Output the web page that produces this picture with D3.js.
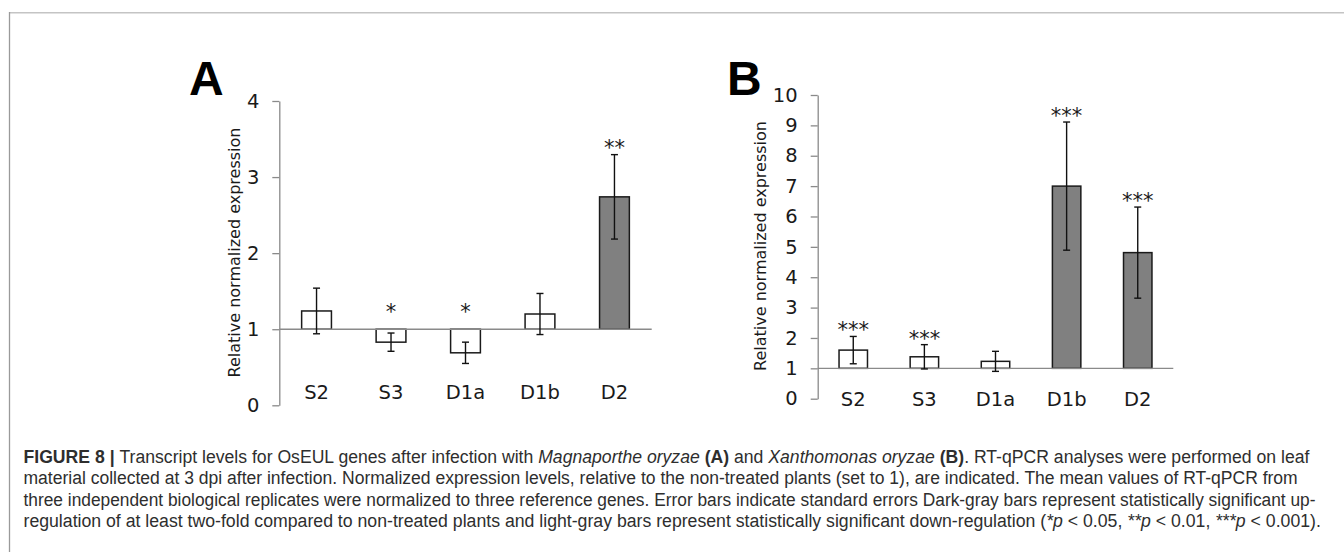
<!DOCTYPE html>
<html><head><meta charset="utf-8">
<script src="https://cdn.jsdelivr.net/npm/d3@7/dist/d3.min.js"></script>
<style>
html,body{margin:0;padding:0;background:#fff;}
svg{display:block;}
</style></head>
<body>
<svg id="c" width="1344" height="552"></svg>
<script>
// ---- data ----
const categories = ["S2", "S3", "D1a", "D1b", "D2"];
const valuesA = [1.24, 0.83, 0.69, 1.20, 2.74];
const errorsA = [0.30, 0.12, 0.14, 0.27, 0.555];
const signifA = ["", "*", "*", "", "**"];
const upA = [false, false, false, false, true];
const ticksA = [0, 1, 2, 3, 4];

const valuesB = [1.60, 1.38, 1.23, 7.00, 4.81];
const errorsB = [0.45, 0.40, 0.33, 2.11, 1.50];
const signifB = ["***", "***", "", "***", "***"];
const upB = [false, false, false, true, true];
const ticksB = [0, 1, 2, 3, 4, 5, 6, 7, 8, 9, 10];

const yLabel = "Relative normalized expression";

const svg = d3.select("#c");

// frame
svg.append("line").attr("x1", 9.5).attr("x2", 1344).attr("y1", 12.7).attr("y2", 12.7)
  .attr("stroke", "#c4c4c4").attr("stroke-width", 1.6);
svg.append("line").attr("x1", 9.5).attr("x2", 9.5).attr("y1", 12).attr("y2", 552)
  .attr("stroke", "#9a9a9a").attr("stroke-width", 1.3);

const chartFont = "'DejaVu Sans', Verdana, sans-serif";

function panel(opt) {
  const g = svg.append("g");
  const x = d3.scaleBand().domain(categories).range([opt.x0, opt.x1])
    .paddingInner(0.6).paddingOuter(0.3);
  const y = d3.scaleLinear().domain([0, opt.max]).range([opt.yb, opt.yt]);
  const data = categories.map((c, i) => ({c, v: opt.values[i], e: opt.errors[i], s: opt.sig[i], up: opt.up[i]}));

  // y axis
  const ax = g.append("g").attr("transform", `translate(${opt.x0},0)`)
    .call(d3.axisLeft(y).tickValues(opt.ticks).tickSize(7).tickSizeOuter(0).tickPadding(13).tickFormat(d3.format("d")));
  ax.select(".domain").attr("stroke", "#8a8a8a").attr("stroke-width", 1.3);
  ax.selectAll(".tick line").attr("stroke", "#8a8a8a").attr("stroke-width", 1.3);
  ax.selectAll(".tick text").attr("font-family", chartFont).attr("font-size", 19.5).attr("fill", "#1a1a1a");

  // bars
  g.selectAll("rect.bar").data(data).join("rect")
    .attr("x", d => x(d.c))
    .attr("width", x.bandwidth())
    .attr("y", d => Math.min(y(d.v), y(1)))
    .attr("height", d => Math.abs(y(d.v) - y(1)))
    .attr("fill", d => d.up ? "#808080" : "#fff")
    .attr("stroke", "#1a1a1a").attr("stroke-width", 1.5);

  // baseline at 1
  g.append("line").attr("x1", opt.x0).attr("x2", opt.x1)
    .attr("y1", y(1)).attr("y2", y(1)).attr("stroke", "#8a8a8a").attr("stroke-width", 1.3);

  // error bars
  const cap = 3.5;
  const eb = g.selectAll("g.err").data(data).join("g");
  eb.append("line").attr("x1", d => x(d.c) + x.bandwidth() / 2).attr("x2", d => x(d.c) + x.bandwidth() / 2)
    .attr("y1", d => y(d.v + d.e)).attr("y2", d => y(d.v - d.e));
  eb.append("line").attr("x1", d => x(d.c) + x.bandwidth() / 2 - cap).attr("x2", d => x(d.c) + x.bandwidth() / 2 + cap)
    .attr("y1", d => y(d.v + d.e)).attr("y2", d => y(d.v + d.e));
  eb.append("line").attr("x1", d => x(d.c) + x.bandwidth() / 2 - cap).attr("x2", d => x(d.c) + x.bandwidth() / 2 + cap)
    .attr("y1", d => y(d.v - d.e)).attr("y2", d => y(d.v - d.e));
  eb.selectAll("line").attr("stroke", "#111").attr("stroke-width", 1.4);

  // significance
  g.selectAll("text.sig").data(data.filter(d => d.s)).join("text")
    .attr("x", d => x(d.c) + x.bandwidth() / 2)
    .attr("y", d => {
      const top = d.v >= 1 ? y(d.v + d.e) : y(1) - opt.downGap;
      return top - opt.sigGap + 12;
    })
    .attr("text-anchor", "middle").attr("font-family", chartFont).attr("font-size", 21).attr("fill", "#1a1a1a")
    .text(d => d.s);

  // category labels
  g.selectAll("text.cat").data(categories).join("text")
    .attr("x", d => x(d) + x.bandwidth() / 2).attr("y", opt.labelY)
    .attr("text-anchor", "middle").attr("font-family", chartFont).attr("font-size", 19.5).attr("fill", "#1a1a1a")
    .text(d => d);

  // y label
  g.append("text").attr("transform", `translate(${opt.ylx},${opt.yly}) rotate(-90)`)
    .attr("text-anchor", "middle").attr("font-family", chartFont).attr("font-size", 16).attr("fill", "#1a1a1a")
    .text(yLabel);

  // panel letter
  g.append("text").attr("x", opt.lx).attr("y", 95)
    .attr("font-family", "'Liberation Sans', Arial, sans-serif").attr("font-weight", "bold").attr("font-size", 48)
    .attr("fill", "#000").text(opt.letter);
}

panel({x0: 279.3, x1: 651.7, yb: 405.3, yt: 101, max: 4, ticks: ticksA,
  values: valuesA, errors: errorsA, sig: signifA, up: upA,
  labelY: 398.5, ylx: 240, yly: 252.5, lx: 189, letter: "A", sigGap: 12, downGap: 10});
panel({x0: 817.7, x1: 1173.3, yb: 398.7, yt: 95, max: 10, ticks: ticksB,
  values: valuesB, errors: errorsB, sig: signifB, up: upB,
  labelY: 405.5, ylx: 766, yly: 246, lx: 727, letter: "B", sigGap: 11, downGap: 8});

// caption (Liberation Sans, horizontally condensed to match the narrow face)
const capFont = "'Liberation Sans', Arial, sans-serif";
const captionLines = [
  [["b", "FIGURE 8 | "], ["", "Transcript levels for OsEUL genes after infection with "], ["i", "Magnaporthe oryzae"], ["", " "], ["b", "(A)"], ["", " and "], ["i", "Xanthomonas oryzae"], ["", " "], ["b", "(B)"], ["", ". RT-qPCR analyses were performed on leaf"]],
  [["", "material collected at 3 dpi after infection. Normalized expression levels, relative to the non-treated plants (set to 1), are indicated. The mean values of RT-qPCR from"]],
  [["", "three independent biological replicates were normalized to three reference genes. Error bars indicate standard errors Dark-gray bars represent statistically significant up-"]],
  [["", "regulation of at least two-fold compared to non-treated plants and light-gray bars represent statistically significant down-regulation ("], ["i", "*p"], ["", " < 0.05, "], ["i", "**p"], ["", " < 0.01, "], ["i", "***p"], ["", " < 0.001)."]]
];
const capBase = [462.7, 484.2, 505.6, 527];
const capWidth = [1287, 1275.5, 1293, 1298];
const capX = 23.5;
captionLines.forEach((parts, i) => {
  const g = svg.append("g");
  const t = g.append("text").attr("x", 0).attr("y", 0)
    .attr("font-family", capFont).attr("font-size", 19).attr("fill", "#2e2e2e");
  parts.forEach(([st, s]) => {
    const ts = t.append("tspan").text(s);
    if (st === "b") ts.attr("font-weight", "bold");
    if (st === "i") ts.attr("font-style", "italic");
  });
  const w = t.node().getComputedTextLength();
  const k = capWidth[i] / w;
  g.attr("transform", `translate(${capX},${capBase[i]}) scale(${k},1)`);
});
</script>
</body></html>
